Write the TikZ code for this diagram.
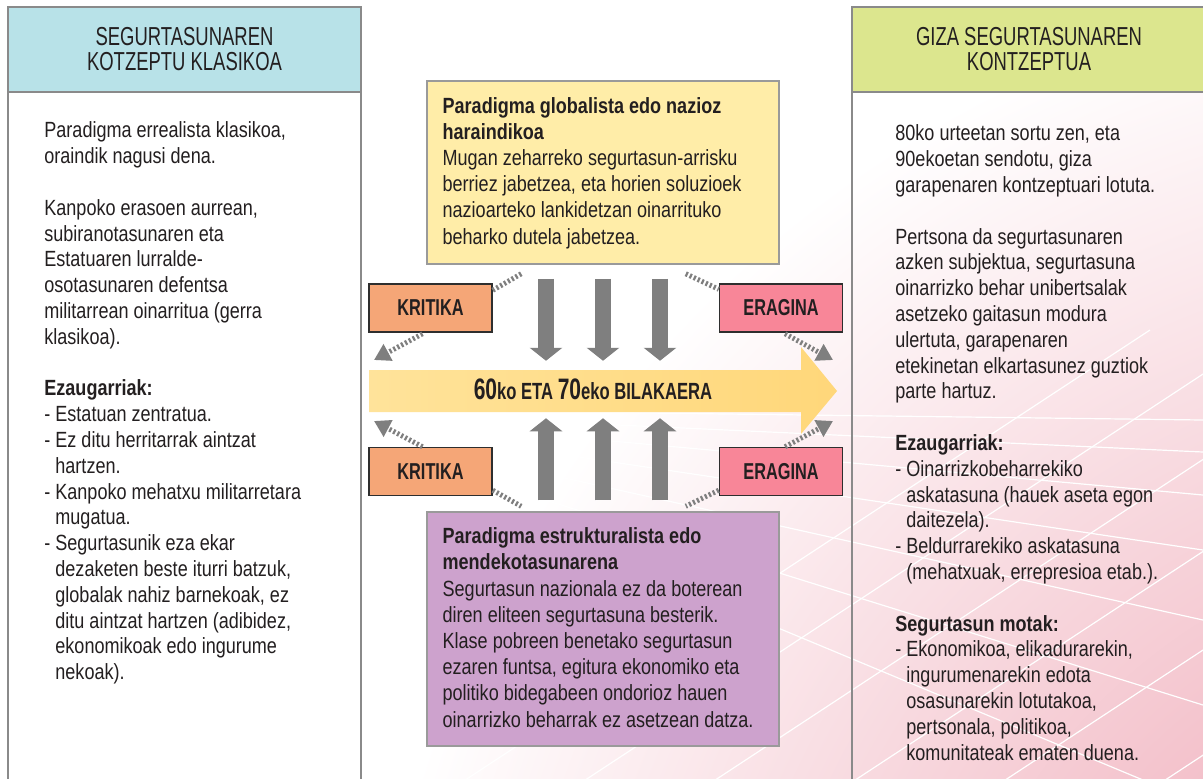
\documentclass[tikz,border=0pt]{standalone}
\usepackage{fontspec}
\setmainfont{Liberation Sans}[FakeStretch=0.82]
\newfontfamily\headfont{Liberation Sans}[FakeStretch=0.71]
\usepackage{xcolor}
\usetikzlibrary{arrows.meta,positioning,calc}

\definecolor{headblue}{HTML}{B8E2E8}
\definecolor{headgreen}{HTML}{DCE68E}
\definecolor{boxyellow}{HTML}{FFEDA8}
\definecolor{boxmauve}{HTML}{CDA2CD}
\definecolor{kritcol}{HTML}{F5A677}
\definecolor{eragcol}{HTML}{F88698}
\definecolor{arrowgold}{HTML}{FFD77A}
\definecolor{arrowlight}{HTML}{FFE39A}
\definecolor{arrowgrey}{HTML}{7F7F7F}
\definecolor{framegrey}{HTML}{8A8A8A}
\definecolor{boxgrey}{HTML}{9A9A9A}
\definecolor{tagborder}{HTML}{2E2E2E}
\definecolor{bgpink}{HTML}{EC9AAA}
\definecolor{textdark}{HTML}{231F20}

\tikzset{
  frame/.style={draw=framegrey, line width=1pt},
  colhead/.style={frame, minimum height=42.5pt, align=center, text=textdark,
    font=\headfont\fontsize{13}{12.5}\selectfont},
  coltext/.style={anchor=north west, inner sep=0pt, align=left, text=textdark,
    font=\fontsize{11}{12.9}\selectfont},
  parabox/.style={draw=boxgrey, line width=0.75pt, minimum width=176pt},
  boxtext/.style={anchor=north west, inner sep=0pt, align=left, text=textdark,
    font=\fontsize{11}{13.1}\selectfont},
  tagbox/.style={draw=tagborder, line width=0.75pt, minimum width=61.5pt,
    minimum height=24pt, inner sep=0pt, text=textdark,
    font=\headfont\bfseries\fontsize{11.5}{12}\selectfont},
  greyarrow/.style={draw=arrowgrey, line width=8pt, -{Triangle[width=16pt,length=6.5pt]}},
  dotline/.style={draw=arrowgrey, line width=2.5pt, dash pattern=on 1.1pt off 1.1pt},
  dotarrow/.style={dotline, -{Triangle[width=9pt,length=8pt]}},
  gridline/.style={draw=white, line width=0.6pt},
}

\begin{document}
\begin{tikzpicture}[x=0.5pt,y=-0.5pt]
\useasboundingbox (0,0) rectangle (1203,778);

% background
\begin{scope}
\clip (0,0) rectangle (1203,778);
\fill[white] (0,0) rectangle (1203,778);
\shade[inner color=bgpink, outer color=white] (1500,1100) circle (565pt);
\foreach \ey in {420,452,495,550,620,705,805}
  \draw[gridline] (250,408) -- (1203,\ey);
\foreach \sx in {450,570,700,840,990,1150,1320,1500}
  \draw[gridline] (\sx,790) -- ++(700,-460);
\end{scope}

% left column
\draw[frame, fill=white] (8,7) rectangle (361,800);
\node[colhead, fill=headblue, minimum width=176.5pt] (lefthead) at (184.5,49.5)
  {SEGURTASUNAREN\\KOTZEPTU KLASIKOA};
\node[coltext] (lefttext) at (44,121.5) {%
Paradigma errealista klasikoa,\\
oraindik nagusi dena.\\[12.9pt]
Kanpoko erasoen aurrean,\\
subiranotasunaren eta\\
Estatuaren lurralde-\\
osotasunaren defentsa\\
militarrean oinarritua (gerra\\
klasikoa).\\[12.9pt]
\textbf{Ezaugarriak:}\\
- Estatuan zentratua.\\
- Ez ditu herritarrak aintzat\\
\phantom{- }hartzen.\\
- Kanpoko mehatxu militarretara\\
\phantom{- }mugatua.\\
- Segurtasunik eza ekar\\
\phantom{- }dezaketen beste iturri batzuk,\\
\phantom{- }globalak nahiz barnekoak, ez\\
\phantom{- }ditu aintzat hartzen (adibidez,\\
\phantom{- }ekonomikoak edo ingurume\\
\phantom{- }nekoak).};

% right column
\draw[frame] (852,800) -- (852,7) -- (1210,7);
\node[colhead, fill=headgreen, minimum width=177pt] (righthead) at (1029,49.5)
  {GIZA SEGURTASUNAREN\\KONTZEPTUA};
\node[coltext] (righttext) at (895,124.5) {%
80ko urteetan sortu zen, eta\\
90ekoetan sendotu, giza\\
garapenaren kontzeptuari lotuta.\\[12.9pt]
Pertsona da segurtasunaren\\
azken subjektua, segurtasuna\\
oinarrizko behar unibertsalak\\
asetzeko gaitasun modura\\
ulertuta, garapenaren\\
etekinetan elkartasunez guztiok\\
parte hartuz.\\[12.9pt]
\textbf{Ezaugarriak:}\\
- Oinarrizkobeharrekiko\\
\phantom{- }askatasuna (hauek aseta egon\\
\phantom{- }daitezela).\\
- Beldurrarekiko askatasuna\\
\phantom{- }(mehatxuak, errepresioa etab.).\\[12.9pt]
\textbf{Segurtasun motak:}\\
- Ekonomikoa, elikadurarekin,\\
\phantom{- }ingurumenarekin edota\\
\phantom{- }osasunarekin lotutakoa,\\
\phantom{- }pertsonala, politikoa,\\
\phantom{- }komunitateak ematen duena.};

% paradigm boxes
\node[parabox, fill=boxyellow, minimum height=91.5pt] (topbox) at (603,172.5) {};
\node[boxtext] (toptext) at ($(topbox.north west)+(16,16.5)$) {%
\textbf{Paradigma globalista edo nazioz}\\
\textbf{haraindikoa}\\
Mugan zeharreko segurtasun-arrisku\\
berriez jabetzea, eta horien soluzioek\\
nazioarteko lankidetzan oinarrituko\\
beharko dutela jabetzea.};

\node[parabox, fill=boxmauve, minimum height=117pt] (botbox) at (603,629) {};
\node[boxtext] (bottext) at ($(botbox.north west)+(16,16)$) {%
\textbf{Paradigma estrukturalista edo}\\
\textbf{mendekotasunarena}\\
Segurtasun nazionala ez da boterean\\
diren eliteen segurtasuna besterik.\\
Klase pobreen benetako segurtasun\\
ezaren funtsa, egitura ekonomiko eta\\
politiko bidegabeen ondorioz hauen\\
oinarrizko beharrak ez asetzean datza.};

% evolution arrow
\shade[left color=arrowlight, right color=arrowgold]
  (369,370) -- (801,370) -- (801,347) -- (837,391) -- (801,434) -- (801,412) -- (369,412) -- cycle;
\node[text=textdark, font=\headfont\bfseries\fontsize{11.7}{12}\selectfont] (evolabel) at (593,389)
  {{\fontsize{14.8}{15}\selectfont 60}ko ETA {\fontsize{14.8}{15}\selectfont 70}eko BILAKAERA};
\coordinate (tipTL) at (374,360);
\coordinate (tipTR) at (833,360);
\coordinate (tipBL) at (374,421);
\coordinate (tipBR) at (833,421);

% grey arrows into the evolution
\foreach \dx in {-57,0,57} {
  \draw[greyarrow] ($(topbox.south)+(\dx,14)$) -- ($(topbox.south)+(\dx,96)$);
  \draw[greyarrow] ($(botbox.north)+(\dx,-11)$) -- ($(botbox.north)+(\dx,-93)$);
}

% critique and influence tags
\node[tagbox, fill=kritcol] (kritup) at (430.5,308) {KRITIKA};
\node[tagbox, fill=eragcol, right=113pt of kritup] (eragup) {ERAGINA};
\node[tagbox, fill=kritcol, below=57pt of kritup] (kritdown) {KRITIKA};
\node[tagbox, fill=eragcol, below=57pt of eragup] (eragdown) {ERAGINA};

% dotted links
\draw[dotline] ($(topbox.south west)+(95,9)$) -- ($(kritup.north east)+(0,7)$);
\draw[dotline] ($(topbox.south east)+(-94,9)$) -- ($(eragup.north west)+(0,6)$);
\draw[dotline] ($(kritdown.south east)+(0,-6)$) -- ($(botbox.north west)+(95,-5)$);
\draw[dotline] ($(eragdown.south west)+(0,-6)$) -- ($(botbox.north east)+(-94,-5)$);
\draw[dotarrow] ($(kritup.south)+(-8,1)$) -- (tipTL);
\draw[dotarrow] ($(eragup.south)+(4,1)$) -- (tipTR);
\draw[dotarrow] ($(kritdown.north)+(-8,0)$) -- (tipBL);
\draw[dotarrow] ($(eragdown.north)+(4,0)$) -- (tipBR);
\end{tikzpicture}
\end{document}
